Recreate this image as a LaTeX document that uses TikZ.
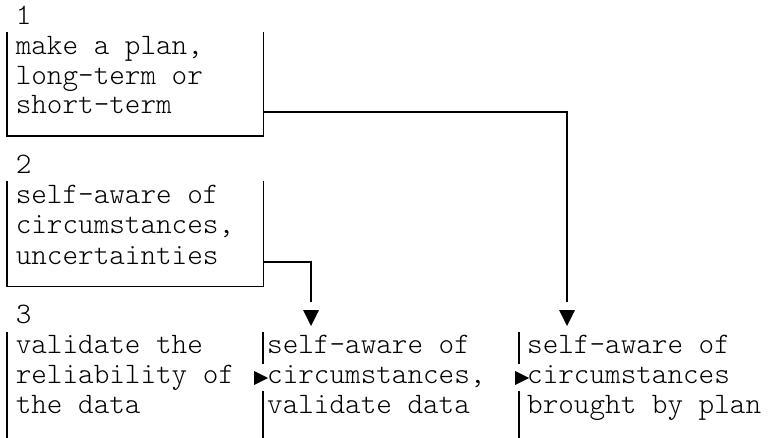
\documentclass[tikz,border=0pt]{standalone}
\usepackage{fontspec}
\newfontfamily\lightmono{Latin Modern Mono Light}
\begin{document}
\begin{tikzpicture}[x=1pt,y=-1pt,
    line/.style={anchor=base west,inner sep=0pt,font=\lightmono\fontsize{29.7}{30}\selectfont},
    frame/.style={draw=none,inner sep=0pt,anchor=north west},
    rule/.style={line width=1.8pt},
    wire/.style={line width=1.8pt}]
  \useasboundingbox (0,0) rectangle (773,438);

  % step 1
  \node[line] (n1)  at (15.6,25)  {1};
  \node[line] (t1a) at (15.6,55)  {make a plan,};
  \node[line] (t1b) at (15.6,85)  {long-term or};
  \node[line] (t1c) at (15.6,114) {short-term};
  \node[frame,minimum width=256pt,minimum height=104pt] (b1) at (7,32) {};
  \draw[rule] (b1.north west) |- (b1.south east) -- (b1.north east);

  % step 2
  \node[line] (n2)  at (15.6,174) {2};
  \node[line] (t2a) at (15.6,204) {self-aware of};
  \node[line] (t2b) at (15.6,234) {circumstances,};
  \node[line] (t2c) at (15.6,264) {uncertainties};
  \node[frame,minimum width=256pt,minimum height=105pt] (b2) at (7,181) {};
  \draw[rule] (b2.north west) |- (b2.south east) -- (b2.north east);

  % step 3
  \node[line] (n3)  at (15.6,323) {3};
  \node[line] (t3a) at (15.6,353) {validate the};
  \node[line] (t3b) at (15.6,383) {reliability of};
  \node[line] (t3c) at (15.6,413) {the data};

  \node[line] (t4a) at (267,353) {self-aware of};
  \node[line] (t4b) at (267,383) {circumstances,};
  \node[line] (t4c) at (267,413) {validate data};

  \node[line] (t5a) at (527,353) {self-aware of};
  \node[line] (t5b) at (527,383) {circumstances};
  \node[line] (t5c) at (527,413) {brought by plan};

  % column bars of the bottom row
  \draw[rule] (7,332) -- (7,438);
  \draw[rule] (263,332) -- (263,364);
  \draw[rule] (263,391) -- (263,438);
  \draw[rule] (519,332) -- (519,364);
  \draw[rule] (519,391) -- (519,438);

  % side markers
  \fill (254,371) -- (254,385) -- (268,378) -- cycle;
  \fill (515,371) -- (515,385) -- (529,378) -- cycle;

  % connectors
  \coordinate (endA) at (311,302);
  \coordinate (endB) at (567,302);
  \draw[wire] (b2.east |- t2c.mid) -| (endA);
  \draw[wire] (b1.east |- t1c.mid) -| (endB);
  \fill (endA) ++(-8,8) -- ++(16,0) -- ++(-8,16) -- cycle;
  \fill (endB) ++(-8,8) -- ++(16,0) -- ++(-8,16) -- cycle;
\end{tikzpicture}
\end{document}
